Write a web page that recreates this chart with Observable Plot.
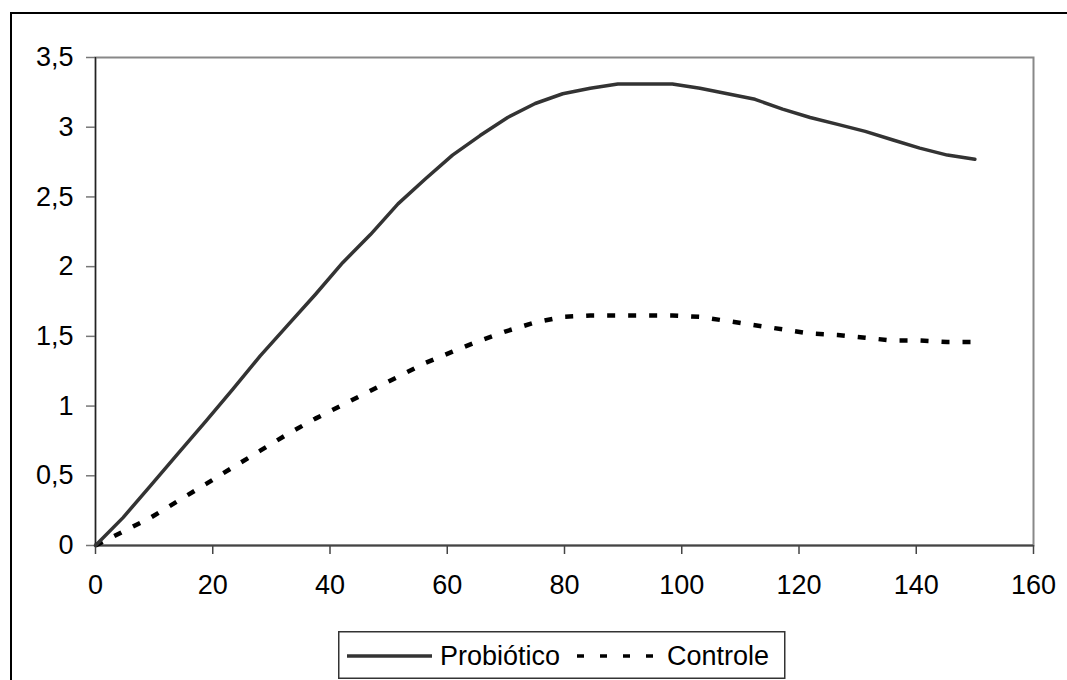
<!DOCTYPE html>
<html>
<head>
<meta charset="utf-8">
<script src="https://cdn.jsdelivr.net/npm/d3@7"></script>
<script src="https://cdn.jsdelivr.net/npm/@observablehq/plot@0.6"></script>
<style>
  html, body { margin: 0; padding: 0; background: #fff; overflow: hidden; }
  #page { position: relative; width: 1067px; height: 680px; overflow: hidden; background: #fff; }
  #outer { position: absolute; left: 10px; top: 12px; width: 1100px; height: 700px; border: 2.5px solid #000; box-sizing: border-box; }
  #chart { position: absolute; left: 0; top: 0; }
  #legend { position: absolute; left: 338px; top: 631px; }
</style>
</head>
<body>
<div id="page">
  <div id="outer"></div>
  <div id="chart"></div>
  <div id="legend"></div>
</div>
<script>
const xDays = [0, 4.7, 9.4, 14.1, 18.8, 23.4, 28.1, 32.8, 37.5, 42.2, 46.9, 51.6, 56.3, 60.9, 65.6, 70.3, 75, 79.7, 84.4, 89.1, 93.8, 98.4, 103.1, 107.8, 112.5, 117.2, 121.9, 126.6, 131.3, 135.9, 140.6, 145.3, 150];
const probiotico = [0, 0.2, 0.43, 0.66, 0.89, 1.12, 1.36, 1.58, 1.8, 2.03, 2.23, 2.45, 2.63, 2.8, 2.94, 3.07, 3.17, 3.24, 3.28, 3.31, 3.31, 3.31, 3.28, 3.24, 3.2, 3.13, 3.07, 3.02, 2.97, 2.91, 2.85, 2.8, 2.77];
const controle = [0, 0.1, 0.2, 0.32, 0.44, 0.56, 0.68, 0.8, 0.91, 1.01, 1.11, 1.21, 1.31, 1.39, 1.47, 1.54, 1.6, 1.64, 1.65, 1.65, 1.65, 1.65, 1.64, 1.61, 1.58, 1.55, 1.52, 1.51, 1.49, 1.47, 1.47, 1.46, 1.46];
const xTicks = [0, 20, 40, 60, 80, 100, 120, 140, 160];
const yTicks = [0, 0.5, 1, 1.5, 2, 2.5, 3, 3.5];
const seriesNames = ["Probiótico", "Controle"];

const probData = xDays.map((x, i) => ({x, y: probiotico[i]}));
const ctrlData = xDays.map((x, i) => ({x, y: controle[i]}));
const fmt = d => String(d).replace(".", ",");

const chart = Plot.plot({
  width: 1067,
  height: 620,
  marginLeft: 95,
  marginRight: 34,
  marginTop: 57,
  marginBottom: 75,
  style: {fontFamily: "Arial, 'Liberation Sans', sans-serif", fontSize: "27px", color: "#000", background: "transparent", overflow: "visible"},
  x: {domain: [0, 160]},
  y: {domain: [0, 3.5]},
  marks: [
    Plot.frame({stroke: "#888", strokeWidth: 2}),
    Plot.axisY({ticks: yTicks, tickSize: 9, tickPadding: 13, tickFormat: fmt, stroke: "#777", strokeWidth: 1.5, label: null}),
    Plot.axisX({ticks: xTicks, tickSize: 9, tickPadding: 20, tickFormat: fmt, stroke: "#444", strokeWidth: 1.5, label: null}),
    Plot.ruleX([0], {stroke: "#222", strokeWidth: 1.3}),
    Plot.ruleY([0], {stroke: "#444", strokeWidth: 2}),
    Plot.line(ctrlData, {x: "x", y: "y", stroke: "#000", strokeWidth: 4.5, strokeDasharray: "8,13", strokeLinecap: "butt", strokeLinejoin: "miter"}),
    Plot.line(probData, {x: "x", y: "y", stroke: "#333", strokeWidth: 3.5})
  ]
});
document.getElementById("chart").appendChild(chart);

// Legend
const ns = "http://www.w3.org/2000/svg";
const lg = d3.select("#legend").append("svg")
  .attr("xmlns", ns).attr("width", 448).attr("height", 49)
  .style("font-family", "Arial, 'Liberation Sans', sans-serif").style("font-size", "27px");
lg.append("rect").attr("x", 0.75).attr("y", 0.75).attr("width", 446).attr("height", 46.5)
  .attr("fill", "#fff").attr("stroke", "#333").attr("stroke-width", 1.5);
lg.append("line").attr("x1", 9).attr("x2", 94).attr("y1", 25).attr("y2", 25)
  .attr("stroke", "#333").attr("stroke-width", 3.5);
lg.append("text").attr("x", 102).attr("y", 34).attr("fill", "#000").text(seriesNames[0]);
lg.append("line").attr("x1", 239).attr("x2", 318).attr("y1", 25).attr("y2", 25)
  .attr("stroke", "#000").attr("stroke-width", 3.5).attr("stroke-dasharray", "7,16");
lg.append("text").attr("x", 329).attr("y", 34).attr("fill", "#000").text(seriesNames[1]);
</script>
</body>
</html>
